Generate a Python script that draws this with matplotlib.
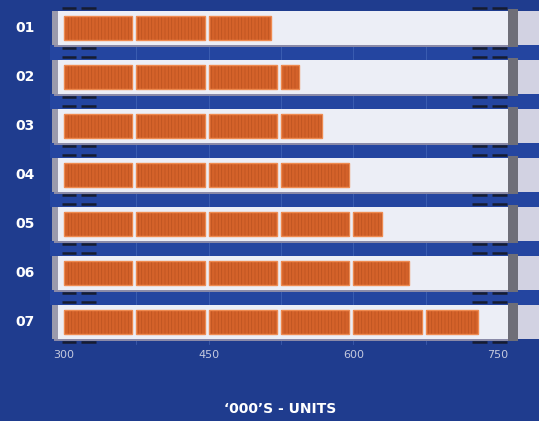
import numpy as np
import matplotlib.pyplot as plt
from matplotlib.patches import Rectangle

rows = ['01', '02', '03', '04', '05', '06', '07']
values = [515, 544, 568, 600, 630, 658, 729]
ticks = [300, 450, 600, 750]
step = 75
xlabel = "\u2018000\u2019S - UNITS"

bg = '#1f3c8e'
band = '#2445a0'
track = '#eceef6'
orange = '#d4622a'

plt.rcParams['hatch.linewidth'] = 0.5

fig = plt.figure(figsize=(5.39, 4.21), dpi=100)
fig.patch.set_facecolor(bg)
ax = fig.add_axes([0, 0, 1, 1])
ax.set_facecolor(bg)

# pixel layout -> data units
px = 434 / 450
x0 = 300 - 64 / px
x1 = 300 + (539 - 64) / px
ax.set_xlim(x0, x1)
ax.set_ylim((421 - 28) / 49, -28 / 49)
ax.axis('off')

u = lambda p: 300 + (p - 64) / px  # pixel x -> value

th = 0.68
bh = 0.50
# bands between rows
for i in range(len(rows) - 1):
    ax.add_patch(Rectangle((u(50), i + th / 2), u(539) - u(50), 1 - th,
                           color=band, lw=0, zorder=0))
# faint grid lines
for g in np.arange(375, 750, step):
    ax.plot([g, g], [-0.3, 6.45], color='#5a7cc8', lw=0.6, alpha=0.5, zorder=1)

for i, (r, v) in enumerate(zip(rows, values)):
    ax.text(u(25), i, r, color='white', fontsize=10, fontweight='bold',
            ha='center', va='center')
    # track + shadow
    ax.add_patch(Rectangle((u(54), i + th / 2 - 0.01), u(508) - u(54), 0.05,
                           color='#8a8aa8', lw=0, zorder=2))
    ax.add_patch(Rectangle((u(52), i - th / 2), u(508) - u(52), th,
                           color=track, lw=0, zorder=2))
    ax.add_patch(Rectangle((u(52), i - th / 2), u(58) - u(52), th,
                           color='#9a9aac', lw=0, zorder=3))
    ax.add_patch(Rectangle((u(508), i - th / 2 - 0.05), u(518) - u(508), th + 0.1,
                           color='#6e6e78', lw=0, zorder=2))
    ax.add_patch(Rectangle((u(518), i - th / 2), u(545) - u(518), th,
                           color='#d2d2e2', lw=0, zorder=2))
    # small dash marks
    for xa, xb in [(62, 76), (81, 96), (472, 487), (492, 507)]:
        for yy in (i - th / 2 - 0.07, i + th / 2 + 0.07):
            ax.plot([u(xa), u(xb)], [yy, yy], color='#161c30', lw=1.8,
                    solid_capstyle='butt', zorder=3)
    # orange segments
    s = 300
    while s < v:
        e = min(s + step - 4, v)
        ax.add_patch(Rectangle((s, i - bh / 2), e - s, bh, facecolor=orange,
                               edgecolor='#bb5220', hatch='|||||', lw=0, zorder=4))
        ax.add_patch(Rectangle((s, i - bh / 2), e - s, bh, fill=False,
                               edgecolor='#ee8a50', lw=1.0, zorder=5))
        s += step

for t in ticks:
    ax.text(t, (355 - 28) / 49, str(t), color='#c4c9de', fontsize=8,
            ha='center', va='center')
ax.text(u(280), (409 - 28) / 49, xlabel, color='white', fontsize=10,
        fontweight='bold', ha='center', va='center')

fig.savefig('out.png', dpi=100, facecolor=bg)
